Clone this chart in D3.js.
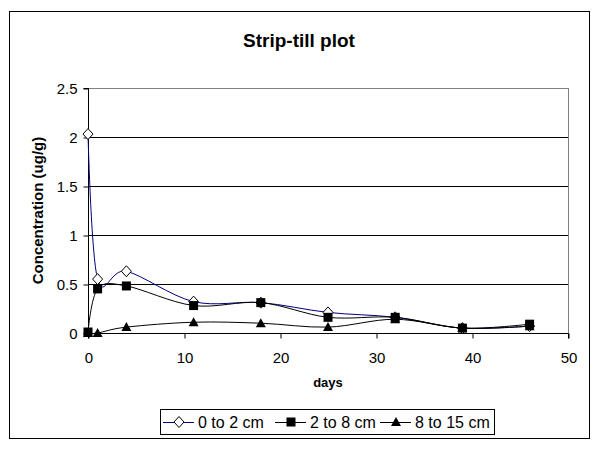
<!DOCTYPE html>
<html><head><meta charset="utf-8">
<script src="https://cdn.jsdelivr.net/npm/d3@7"></script>
<style>body{margin:0;background:#fff}svg{display:block}text{font-family:"Liberation Sans",Arial,sans-serif}</style>
</head><body>
<script>
const days = [0, 1, 4, 11, 18, 25, 32, 39, 46];
const s0to2 = [2.03, 0.55, 0.63, 0.32, 0.31, 0.21, 0.16, 0.05, 0.07];
const s2to8 = [0.01, 0.45, 0.48, 0.28, 0.31, 0.16, 0.16, 0.05, 0.09];
const s8to15 = [0.0, 0.0, 0.06, 0.11, 0.10, 0.06, 0.14, 0.05, 0.07];
const seriesNames = ["0 to 2 cm", "2 to 8 cm", "8 to 15 cm"];
const xTicks = [0, 10, 20, 30, 40, 50];
const yTicks = [0, 0.5, 1, 1.5, 2, 2.5];

const W = 600, H = 450;
const svg = d3.select("body").append("svg").attr("width", W).attr("height", H);
svg.append("rect").attr("x", 9.5).attr("y", 11.5).attr("width", 580).attr("height", 427)
  .attr("fill", "#fff").attr("stroke", "#000").attr("stroke-width", 1);

const L = 88, R = 568, T = 88, B = 333;
const x = d3.scaleLinear().domain([0, 50]).range([L, R]);
const y = d3.scaleLinear().domain([0, 2.5]).range([B, T]);

// gridlines
svg.append("g").selectAll("line").data(yTicks.filter(d => d > 0 && d < 2.5)).join("line")
  .attr("x1", L).attr("x2", R).attr("y1", d => Math.round(y(d)) + 0.5).attr("y2", d => Math.round(y(d)) + 0.5)
  .attr("stroke", "#000");
// plot border
svg.append("rect").attr("x", L + 0.5).attr("y", T + 0.5).attr("width", R - L).attr("height", B - T)
  .attr("fill", "none").attr("stroke", "#808080");

// axes
const yAxis = d3.axisLeft(y).tickValues(yTicks).tickSize(5).tickPadding(6).tickFormat(d3.format("~g"));
const gy = svg.append("g").attr("transform", `translate(${L + 0.5},0.5)`).call(yAxis);
const xAxis = d3.axisBottom(x).tickValues(xTicks).tickSize(5).tickPadding(14).tickFormat(d3.format("d"));
const gx = svg.append("g").attr("transform", `translate(0.5,${B + 0.5})`).call(xAxis);
[gx, gy].forEach(g => {
  g.select(".domain").attr("stroke", "#000");
  g.selectAll(".tick line").attr("stroke", "#000");
  g.selectAll(".tick text").attr("fill", "#000").style("font-size", "15px")
    .style("font-family", '"Liberation Sans", Arial, sans-serif');
});
gy.select(".domain").attr("d", `M-5,${y(0)}H0V${y(2.5)}H-5`);
gx.select(".domain").attr("d", `M${x(0)},5V0H${x(50)}V5`);

// titles
svg.append("text").attr("x", 299).attr("y", 47).attr("text-anchor", "middle")
  .style("font-size", "19px").style("font-weight", "bold").text("Strip-till plot");
svg.append("text").attr("x", 328).attr("y", 387).attr("text-anchor", "middle")
  .style("font-size", "13px").style("font-weight", "bold").text("days");
svg.append("text").attr("transform", `translate(43,${(T + B) / 2}) rotate(-90)`).attr("text-anchor", "middle")
  .style("font-size", "15px").style("font-weight", "bold").text("Concentration (ug/g)");

const series = [
  {vals: s0to2, color: "#000080", sym: "diamond"},
  {vals: s2to8, color: "#000", sym: "square"},
  {vals: s8to15, color: "#000", sym: "triangle"}
];
const line = d3.line().x(d => x(d[0])).y(d => y(d[1])).curve(d3.curveCardinal.tension(0));

function marker(g, sym, cx, cy) {
  if (sym === "diamond") {
    g.append("path").attr("d", `M${cx},${cy - 5.5}L${cx + 5},${cy}L${cx},${cy + 5.5}L${cx - 5},${cy}Z`)
      .attr("fill", "#fff").attr("stroke", "#000").attr("stroke-width", 1);
  } else if (sym === "square") {
    g.append("rect").attr("x", cx - 4.5).attr("y", cy - 4.5).attr("width", 9).attr("height", 9).attr("fill", "#000");
  } else {
    g.append("path").attr("d", `M${cx},${cy - 5}L${cx + 5},${cy + 4}L${cx - 5},${cy + 4}Z`).attr("fill", "#000");
  }
}

// Excel order: each series line + markers in turn
series.forEach(s => {
  const pts = days.map((d, i) => [d, s.vals[i]]);
  svg.append("path").attr("d", line(pts)).attr("fill", "none").attr("stroke", s.color).attr("stroke-width", 1);
  const g = svg.append("g");
  days.forEach((d, i) => marker(g, s.sym, x(d), y(s.vals[i])));
});

// legend
const lg = svg.append("g");
lg.append("rect").attr("x", 160.5).attr("y", 409.5).attr("width", 334).attr("height", 25)
  .attr("fill", "#fff").attr("stroke", "#000");
const legX = [163, 275, 380];
series.forEach((s, i) => {
  const lx = legX[i], ly = 422;
  lg.append("line").attr("x1", lx).attr("x2", lx + 31).attr("y1", ly + 0.5).attr("y2", ly + 0.5).attr("stroke", s.color);
  marker(lg, s.sym, lx + 16, ly);
  lg.append("text").attr("x", lx + 35).attr("y", ly + 6).style("font-size", "16px").text(seriesNames[i]);
});
</script>
</body></html>
